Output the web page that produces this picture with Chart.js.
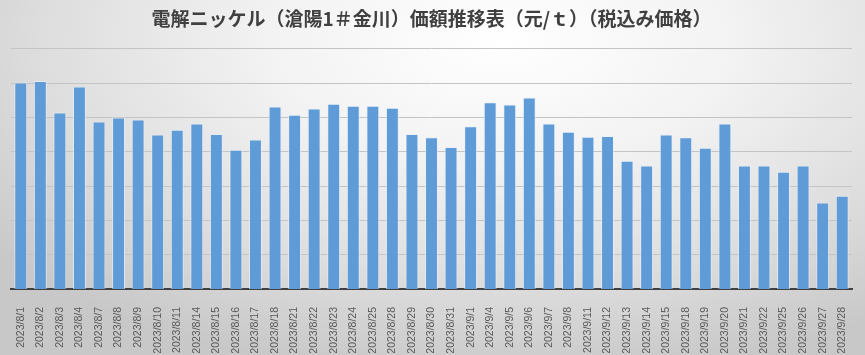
<!DOCTYPE html>
<html>
<head>
<meta charset="utf-8">
<script src="https://cdn.jsdelivr.net/npm/chart.js@4"></script>
<style>
  html, body { margin: 0; padding: 0; }
  body {
    width: 865px; height: 355px; overflow: hidden;
    background: radial-gradient(ellipse 75% 95% at 58% 12%, #ffffff 0%, #f3f3f3 35%, #dedede 70%, #c8c8c8 100%);
  }
  #wrap { width: 865px; height: 355px; position: relative; }
</style>
</head>
<body>
<div id="wrap"><canvas id="myChart"></canvas></div>
<script>
const dates = [
  '2023/8/1', '2023/8/2', '2023/8/3', '2023/8/4', '2023/8/7', '2023/8/8', '2023/8/9',
  '2023/8/10', '2023/8/11', '2023/8/14', '2023/8/15', '2023/8/16', '2023/8/17', '2023/8/18',
  '2023/8/21', '2023/8/22', '2023/8/23', '2023/8/24', '2023/8/25', '2023/8/28', '2023/8/29',
  '2023/8/30', '2023/8/31', '2023/9/1', '2023/9/4', '2023/9/5', '2023/9/6', '2023/9/7',
  '2023/9/8', '2023/9/11', '2023/9/12', '2023/9/13', '2023/9/14', '2023/9/15', '2023/9/18',
  '2023/9/19', '2023/9/20', '2023/9/21', '2023/9/22', '2023/9/25', '2023/9/26', '2023/9/27',
  '2023/9/28'
];

// 元/t (axis values are not printed in the original)
const prices = [
  180100, 180300, 175700, 179500, 174400, 175000, 174700,
  172500, 173200, 174100, 172600, 170300, 171800, 176600,
  175400, 176300, 177000, 176700, 176700, 176400, 172600,
  172100, 170700, 173700, 177200, 176900, 177900, 174100,
  172900, 172200, 172300, 168700, 168000, 172500, 172100,
  170600, 174100, 168000, 168000, 167100, 168000, 162600,
  163600
];

const titleText = '電解ニッケル（滄陽1＃金川）価額推移表（元/ｔ）（税込み価格）';

let ctx = document.getElementById('myChart').getContext('2d');

const data = {
  labels: dates,
  datasets: [{
    label: '価額',
    data: prices,
    backgroundColor: '#5f9bd6',
    borderColor: 'rgba(230,240,252,0.7)',
    borderWidth: 1,
    barPercentage: 0.66,
    categoryPercentage: 1
  }]
};

const config = {
  type: 'bar',
  data: data,
  options: {
    responsive: true,
    maintainAspectRatio: false,
    animation: false,
    layout: { padding: { left: 11, right: 13, top: 0, bottom: 2 } },
    plugins: {
      legend: { display: false },
      tooltip: { enabled: false },
      title: {
        display: true,
        text: titleText,
        color: '#404040',
        font: { family: '"Noto Sans CJK JP"', size: 19, weight: 'bold' },
        padding: { top: 7, bottom: 19 }
      }
    },
    scales: {
      x: {
        grid: { display: false },
        border: { display: true, color: '#404040', width: 2 },
        ticks: {
          color: '#595959',
          font: { family: '"Liberation Sans"', size: 10.5 },
          minRotation: 90,
          maxRotation: 90,
          autoSkip: false,
          padding: 10
        },
        afterFit: function(scale) { scale.height = 64; }
      },
      y: {
        min: 150000,
        max: 185000,
        ticks: { display: false, stepSize: 5000 },
        grid: { color: '#c4c4c4', lineWidth: 1, drawTicks: false },
        border: { display: false }
      }
    }
  }
};

let chart = new Chart(ctx, config);
</script>
</body>
</html>
